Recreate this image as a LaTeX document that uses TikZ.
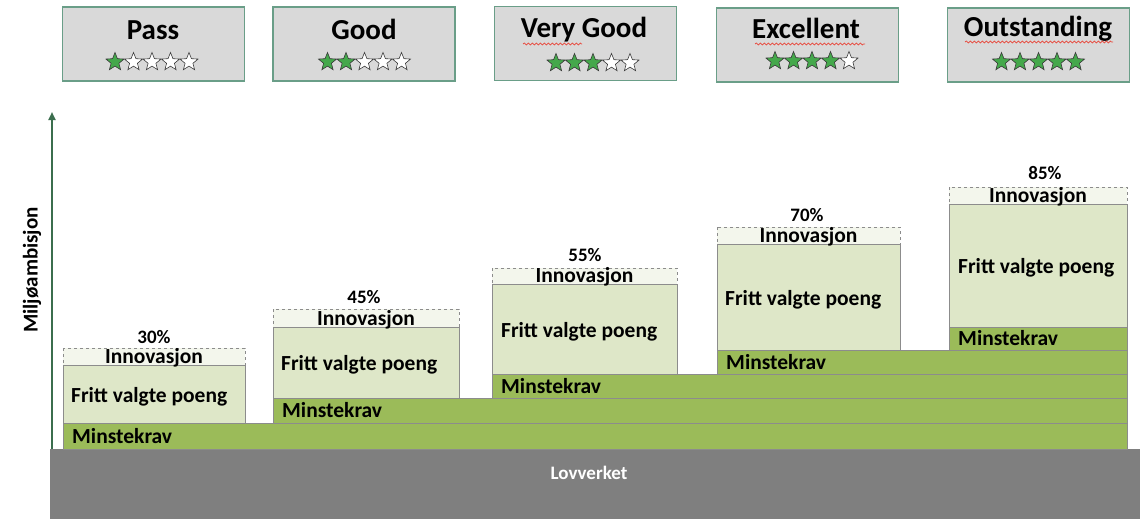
\documentclass[tikz,border=0pt]{standalone}
\usepackage{fontspec}
\setmainfont{Carlito}
\usetikzlibrary{shapes.geometric, arrows.meta, decorations.pathmorphing}

\definecolor{boxgray}{HTML}{D9D9D9}
\definecolor{boxedge}{HTML}{6A9E88}
\definecolor{stargreen}{HTML}{44A84B}
\definecolor{stardark}{HTML}{3A3A3A}
\definecolor{innofill}{HTML}{F3F6EC}
\definecolor{frittfill}{HTML}{DEE7C8}
\definecolor{minstegreen}{HTML}{9BBB59}
\definecolor{edgegray}{HTML}{8C8C8C}
\definecolor{lawgray}{HTML}{7F7F7F}
\definecolor{axisgreen}{HTML}{3B6E4E}
\definecolor{spellred}{HTML}{E8463A}

\tikzset{
	ratingbox/.style={draw=boxedge, line width=1.2pt, fill=boxgray, minimum width=182pt, minimum height=74pt, inner sep=0pt},
	ratingtitle/.style={font=\fontsize{29}{31}\selectfont\bfseries, anchor=base, inner sep=0pt},
	starfull/.style={star, star points=5, star point ratio=2.3, minimum size=19pt, inner sep=0pt, draw=stardark, line width=0.6pt, fill=stargreen},
	starempty/.style={starfull, fill=white},
	spell/.style={draw=spellred, line width=0.7pt, decorate, decoration={snake, amplitude=1pt, segment length=4pt}},
	innobox/.style={draw=edgegray, dashed, line width=0.8pt, fill=innofill},
	frittbox/.style={draw=edgegray, line width=0.8pt, fill=frittfill},
	minstebar/.style={draw=edgegray, line width=0.8pt, fill=minstegreen},
	boxtext/.style={font=\fontsize{21.5}{24}\selectfont\bfseries, anchor=base west, inner sep=0pt},
	innotext/.style={font=\fontsize{21.5}{24}\selectfont\bfseries, anchor=base, inner sep=0pt},
	pcttext/.style={font=\fontsize{19}{20}\selectfont\bfseries, inner sep=0pt},
}

\begin{document}
\begin{tikzpicture}[x=1pt, y=-1pt]
	\useasboundingbox (0,0) rectangle (1140,519);

	% Pass
	\node[ratingbox] (pass) at (153.5,44) {};
	\node[ratingtitle] (pass-title) at (153,40) {Pass};
	\foreach \s [count=\i] in {starfull,starempty,starempty,starempty,starempty}
		\node[\s] (pass-star\i) at ({152+(\i-3)*18.5},62) {};

	% Good
	\node[ratingbox] (good) at (364,44) {};
	\node[ratingtitle] (good-title) at (364,40) {Good};
	\foreach \s [count=\i] in {starfull,starfull,starempty,starempty,starempty}
		\node[\s] (good-star\i) at ({364.5+(\i-3)*18.5},62) {};

	% Very Good
	\node[ratingbox] (verygood) at (585.5,43.5) {};
	\node[ratingtitle] (verygood-title) at (584,38) {Very Good};
	\draw[spell] (523,44) -- (582,44);
	\foreach \s [count=\i] in {starfull,starfull,starfull,starempty,starempty}
		\node[\s] (verygood-star\i) at ({593+(\i-3)*18.5},63) {};

	% Excellent
	\node[ratingbox] (excellent) at (807.5,45) {};
	\node[ratingtitle] (excellent-title) at (806,39) {Excellent};
	\draw[spell] (755,44) -- (865,44);
	\foreach \s [count=\i] in {starfull,starfull,starfull,starfull,starempty}
		\node[\s] (excellent-star\i) at ({812+(\i-3)*18.5},61) {};

	% Outstanding
	\node[ratingbox] (outstanding) at (1038.5,45) {};
	\node[ratingtitle] (outstanding-title) at (1038,37) {Outstanding};
	\draw[spell] (965,42) -- (1113,42);
	\foreach \s [count=\i] in {starfull,starfull,starfull,starfull,starfull}
		\node[\s] (outstanding-star\i) at ({1038.5+(\i-3)*18.5},62) {};

	% axis
	\coordinate (axis-base) at (52,449);
	\coordinate (axis-top) at (52,112);
	\draw[axisgreen, line width=2pt, -{Triangle[length=8pt, width=7pt]}] (axis-base) -- (axis-top);
	\node[font=\fontsize{21}{24}\selectfont\bfseries, rotate=90, inner sep=0pt] (ambisjon) at (32,270) {Miljøambisjon};

	% Lovverket
	\fill[lawgray] (50,449) rectangle (1140,519);
	\node[font=\fontsize{19}{22}\selectfont\bfseries, text=white, inner sep=0pt] (lovverket) at (589,473) {Lovverket};

	% Minstekrav
	\draw[minstebar] (63,423) rectangle (1127,449);
	\node[boxtext] (minste1) at (72,443) {Minstekrav};
	\draw[minstebar] (273,398) rectangle (1127,423);
	\node[boxtext] (minste2) at (282,417.5) {Minstekrav};
	\draw[minstebar] (492,374) rectangle (1127,398);
	\node[boxtext] (minste3) at (501,393) {Minstekrav};
	\draw[minstebar] (717,350) rectangle (1127,374);
	\node[boxtext] (minste4) at (726,369) {Minstekrav};
	\draw[minstebar] (949,327) rectangle (1127,350);
	\node[boxtext] (minste5) at (958,345.5) {Minstekrav};

	% 30%
	\draw[frittbox] (63,365) rectangle (245,423);
	\node[boxtext] (fritt1) at (71,402) {Fritt valgte poeng};
	\draw[innobox] (63,348) rectangle (245,365);
	\node[innotext] (inno1) at (154,363) {Innovasjon};
	\node[pcttext] (pct1) at (154,337) {30\%};

	% 45%
	\draw[frittbox] (273,327) rectangle (459,398);
	\node[boxtext] (fritt2) at (281,370) {Fritt valgte poeng};
	\draw[innobox] (273,309) rectangle (459,327);
	\node[innotext] (inno2) at (366,325) {Innovasjon};
	\node[pcttext] (pct2) at (364,297) {45\%};

	% 55%
	\draw[frittbox] (492,284) rectangle (677,374);
	\node[boxtext] (fritt3) at (501,337) {Fritt valgte poeng};
	\draw[innobox] (492,268) rectangle (677,284);
	\node[innotext] (inno3) at (584.5,282) {Innovasjon};
	\node[pcttext] (pct3) at (585,255) {55\%};

	% 70%
	\draw[frittbox] (717,244) rectangle (900,350);
	\node[boxtext] (fritt4) at (725,305) {Fritt valgte poeng};
	\draw[innobox] (717,227) rectangle (900,244);
	\node[innotext] (inno4) at (808.5,242) {Innovasjon};
	\node[pcttext] (pct4) at (807,215) {70\%};

	% 85%
	\draw[frittbox] (949,204) rectangle (1127,327);
	\node[boxtext] (fritt5) at (958,273) {Fritt valgte poeng};
	\draw[innobox] (949,187) rectangle (1127,204);
	\node[innotext] (inno5) at (1038,202) {Innovasjon};
	\node[pcttext] (pct5) at (1045,173) {85\%};
\end{tikzpicture}
\end{document}
